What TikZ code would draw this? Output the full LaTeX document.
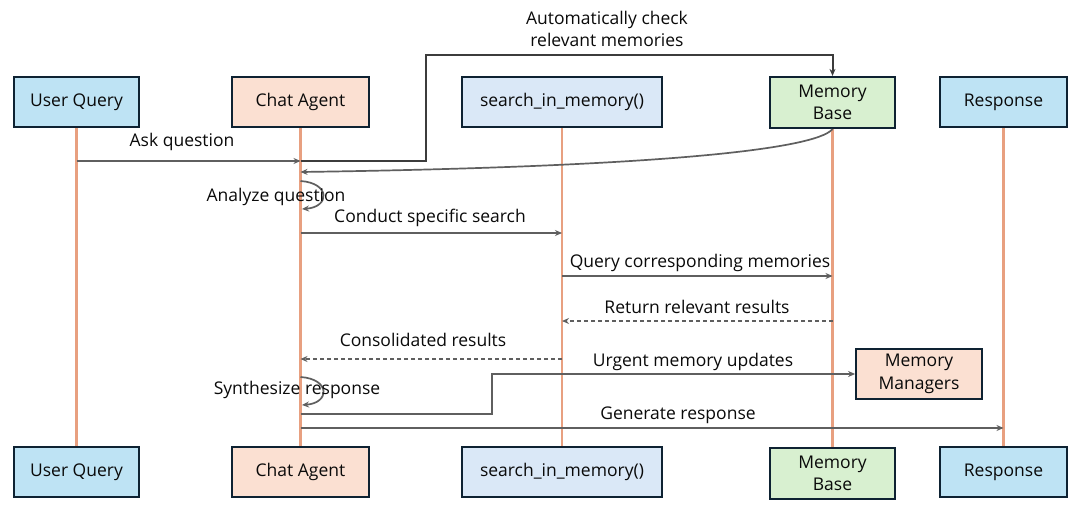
\documentclass[tikz,border=0pt]{standalone}
\usepackage{fontspec}
\setmainfont{Open Sans}
\usetikzlibrary{arrows.meta,calc}
\definecolor{bluebox}{RGB}{190,227,244}
\definecolor{peach}{RGB}{251,224,210}
\definecolor{searchc}{RGB}{218,232,247}
\definecolor{greenc}{RGB}{216,240,208}
\definecolor{edge}{RGB}{14,34,50}
\definecolor{life}{RGB}{232,160,128}
\definecolor{msg}{RGB}{95,95,95}
\definecolor{msgdark}{RGB}{60,60,60}
\definecolor{txt}{RGB}{10,10,10}
\begin{document}
\begin{tikzpicture}[x=1pt,y=-1pt,
  actor/.style={draw=edge,line width=2.2pt,minimum height=50pt,inner sep=0pt,align=center,font=\fontsize{17.5}{22.5}\selectfont,text=txt},
  lifeline/.style={draw=life,line width=2.2pt},
  msgline/.style={draw=msg,line width=1.7pt,-{Stealth[length=7pt,width=6pt]}},
  reply/.style={msgline,dash pattern=on 4pt off 3pt},
  lbl/.style={font=\fontsize{17.5}{22.5}\selectfont,text=txt,inner sep=0pt,align=center}]
\useasboundingbox[fill=white] (0,0) rectangle (1080,517);
% top actors
\node[actor,fill=bluebox,minimum width=125pt] (uq) at (76.5,102) {User Query};
\node[actor,fill=peach,minimum width=137pt] (ca) at (300.5,102) {Chat Agent};
\node[actor,fill=searchc,minimum width=200pt] (s) at (562,102) {search\_in\_memory()};
\node[actor,fill=greenc,minimum width=125pt,minimum height=51pt] (mb) at (832.5,102.5) {Memory\\Base};
\node[actor,fill=bluebox,minimum width=127pt] (r) at (1003.5,102) {Response};
% bottom actors
\node[actor,fill=bluebox,minimum width=125pt] (uq2) at (76.5,472) {User Query};
\node[actor,fill=peach,minimum width=137pt] (ca2) at (300.5,472) {Chat Agent};
\node[actor,fill=searchc,minimum width=200pt] (s2) at (562,472) {search\_in\_memory()};
\node[actor,fill=greenc,minimum width=125pt,minimum height=51pt] (mb2) at (832.5,473.5) {Memory\\Base};
\node[actor,fill=bluebox,minimum width=127pt] (r2) at (1003.5,472) {Response};
% memory managers
\node[actor,fill=peach,line width=1.8pt,minimum width=126pt] (mm) at (919,374) {Memory\\Managers};
% lifelines
\draw[lifeline] (uq.south) -- (uq2.north);
\draw[lifeline] (ca.south) -- (ca2.north);
\draw[lifeline] (s.south) -- (s2.north);
\draw[lifeline] (mb.south) -- (mb2.north);
\draw[lifeline] (r.south) -- (r2.north);
% messages
\draw[msgline] (uq.south |- 0,161) -- (ca.south |- 0,161);
\draw[draw=msgdark,line width=2pt,-{Stealth[length=7pt,width=6pt]}] (ca.south |- 0,161) -| (426,55) -| (mb.north);
\draw[msgline] (mb.south) .. controls (815,150) and (650,167) .. (ca.south |- 0,172);
\draw[msgline] (ca.south |- 0,181) .. controls +(30,2) and +(28,-2) .. (302,209);
\draw[msgline] (ca.south |- 0,233) -- (s.south |- 0,233);
\draw[msgline] (s.south |- 0,276) -- (mb.south |- 0,276);
\draw[reply] (mb.south |- 0,321) -- (s.south |- 0,321);
\draw[reply] (s.south |- 0,359) -- (ca.south |- 0,359);
\draw[msgline] (ca.south |- 0,377) .. controls +(30,2) and +(28,-2) .. (302,405);
\draw[msgline] (ca.south |- 0,414) -| (492,374) -- (mm.west);
\draw[msgline] (ca.south |- 0,428) -- (r.south |- 0,428);
% labels
\node[lbl] (l1) at (182,142) {Ask question};
\node[lbl] (l2) at (607,29) {Automatically check\\relevant memories};
\node[lbl] (l3) at (276,197) {Analyze question};
\node[lbl] (l4) at (430,218) {Conduct specific search};
\node[lbl] (l5) at (700,263) {Query corresponding memories};
\node[lbl] (l6) at (697,307) {Return relevant results};
\node[lbl] (l7) at (423,340) {Consolidated results};
\node[lbl] (l8) at (693,362) {Urgent memory updates};
\node[lbl] (l9) at (297,390) {Synthesize response};
\node[lbl] (l10) at (678,415) {Generate response};
\end{tikzpicture}
\end{document}
